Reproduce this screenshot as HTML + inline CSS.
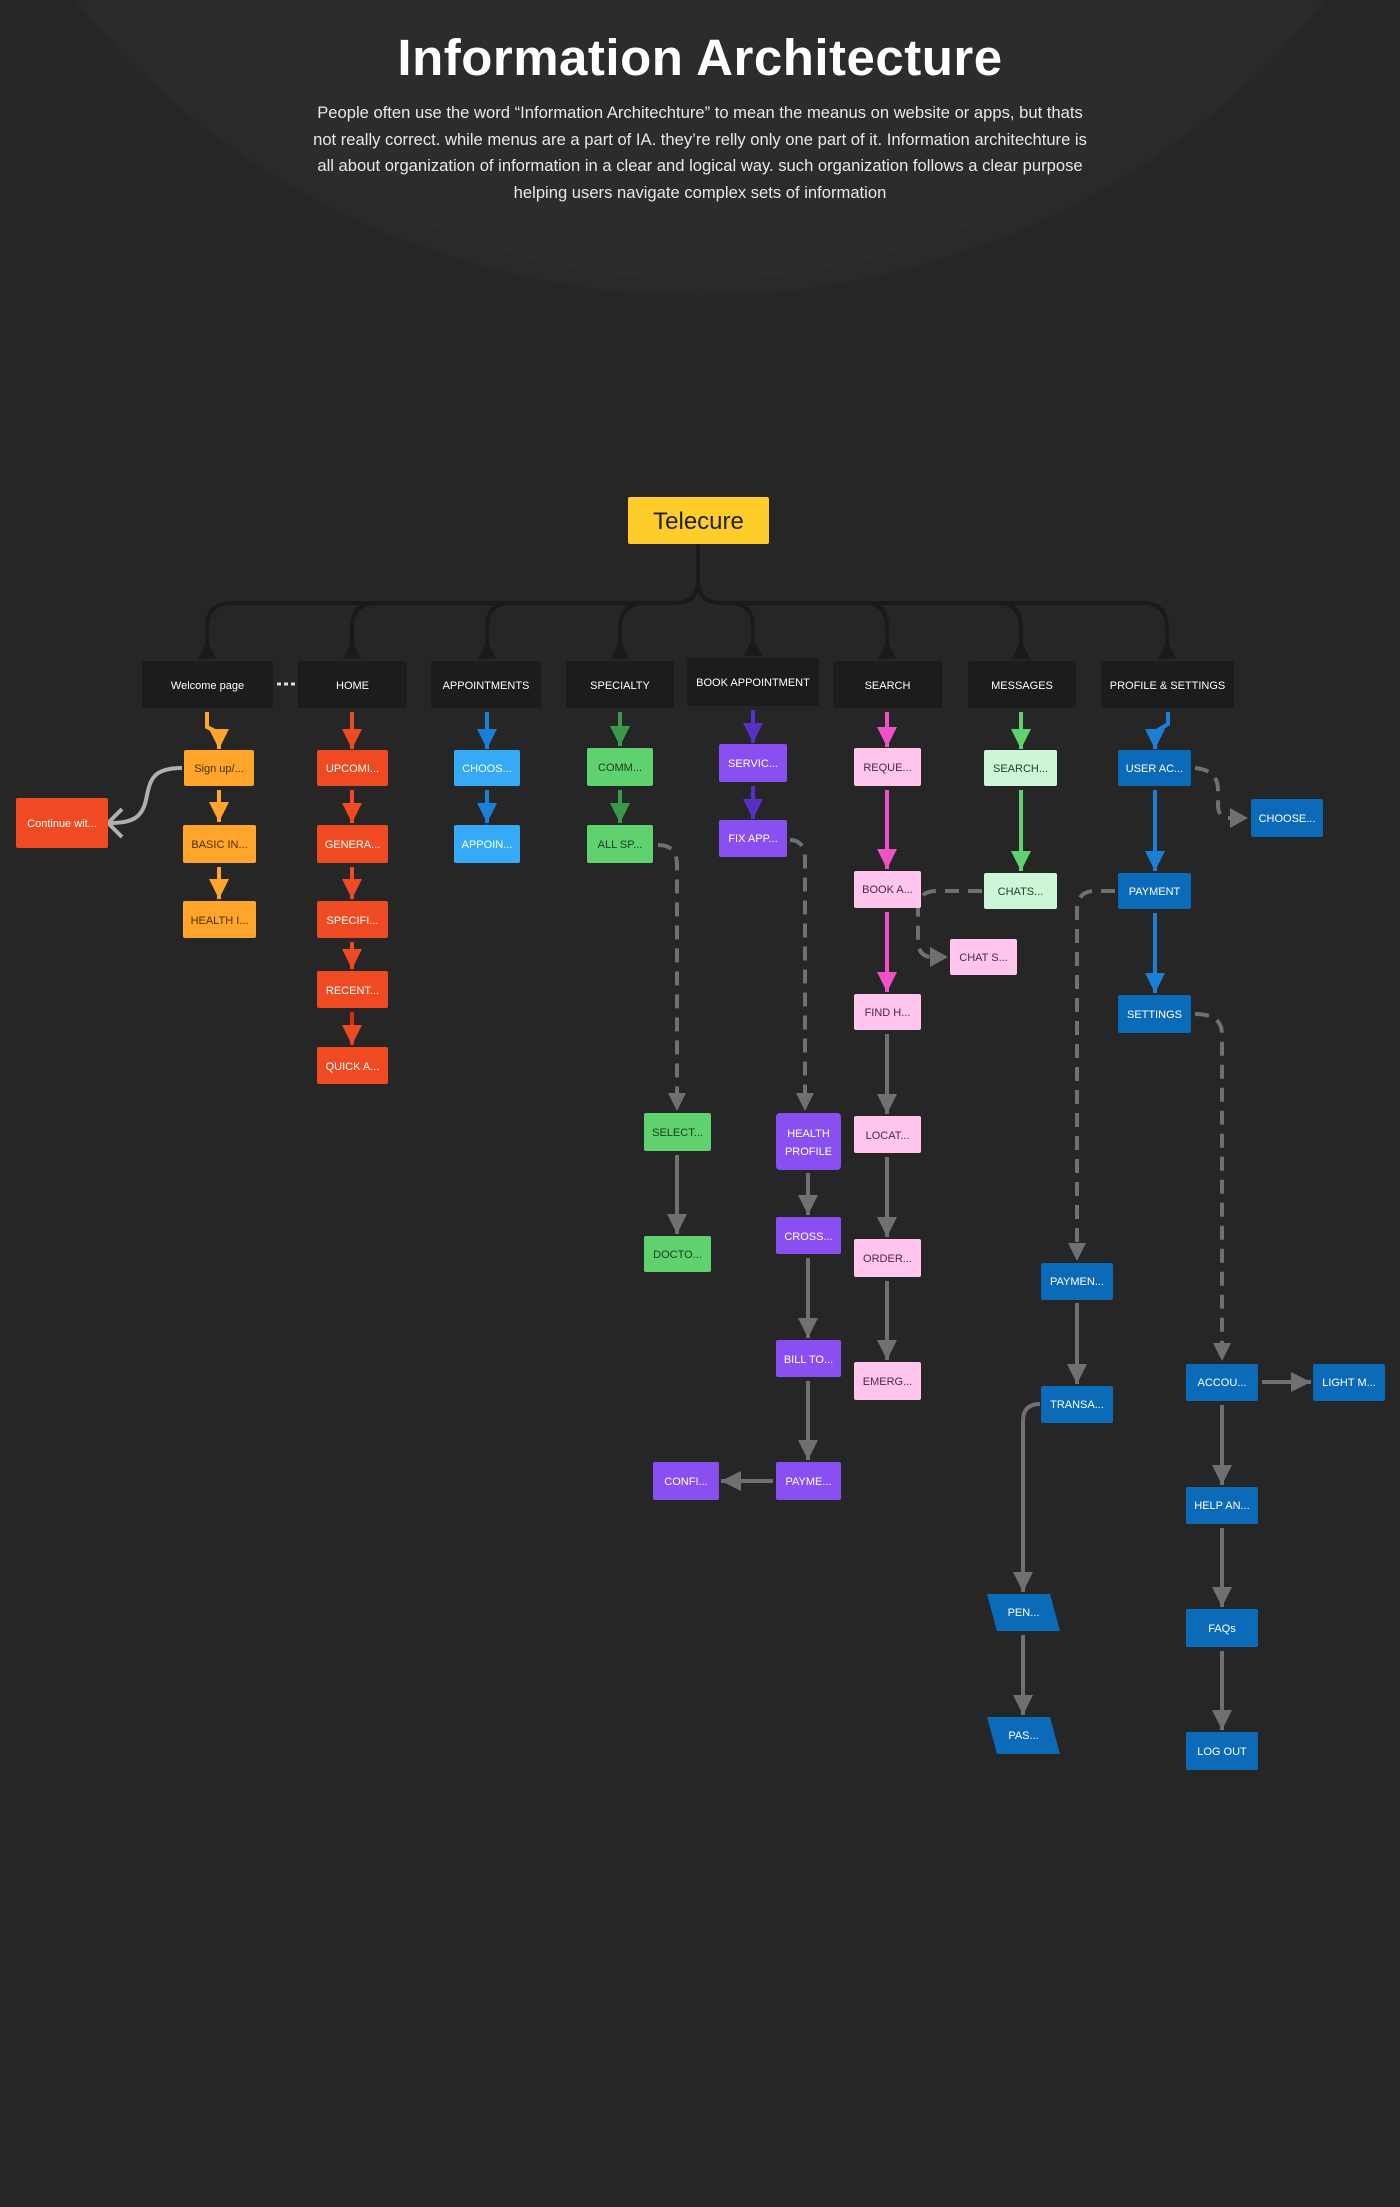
<!DOCTYPE html>
<html><head><meta charset="utf-8"><style>
html,body{margin:0;padding:0;background:#262626;}
body{width:1400px;height:2207px;position:relative;overflow:hidden;font-family:"Liberation Sans",sans-serif;}
.hdr{position:absolute;left:0;top:0;width:1400px;text-align:center;color:#fff;}
h1{margin:0;position:absolute;top:28px;width:1400px;font-size:51px;font-weight:bold;letter-spacing:0.5px;}
p{position:absolute;top:100px;left:200px;width:1000px;margin:0;font-size:16.6px;line-height:26.5px;color:#e8e8e8;white-space:nowrap;}
svg{position:absolute;left:0;top:0;}
</style></head><body>
<svg width="1400" height="2207">
<defs>
<marker id="mo" viewBox="0 0 10 10" refX="10" refY="5" markerWidth="20" markerHeight="20" markerUnits="userSpaceOnUse" orient="auto"><path d="M0,0L10,5L0,10z" fill="#ffa52b"/></marker>
<marker id="mr" viewBox="0 0 10 10" refX="10" refY="5" markerWidth="20" markerHeight="20" markerUnits="userSpaceOnUse" orient="auto"><path d="M0,0L10,5L0,10z" fill="#f04a23"/></marker>
<marker id="mb" viewBox="0 0 10 10" refX="10" refY="5" markerWidth="20" markerHeight="20" markerUnits="userSpaceOnUse" orient="auto"><path d="M0,0L10,5L0,10z" fill="#1a7fd6"/></marker>
<marker id="mg" viewBox="0 0 10 10" refX="10" refY="5" markerWidth="20" markerHeight="20" markerUnits="userSpaceOnUse" orient="auto"><path d="M0,0L10,5L0,10z" fill="#3a9a4a"/></marker>
<marker id="mp" viewBox="0 0 10 10" refX="10" refY="5" markerWidth="20" markerHeight="20" markerUnits="userSpaceOnUse" orient="auto"><path d="M0,0L10,5L0,10z" fill="#5a2fc8"/></marker>
<marker id="mk" viewBox="0 0 10 10" refX="10" refY="5" markerWidth="20" markerHeight="20" markerUnits="userSpaceOnUse" orient="auto"><path d="M0,0L10,5L0,10z" fill="#f050c8"/></marker>
<marker id="ml" viewBox="0 0 10 10" refX="10" refY="5" markerWidth="20" markerHeight="20" markerUnits="userSpaceOnUse" orient="auto"><path d="M0,0L10,5L0,10z" fill="#5fd16f"/></marker>
<marker id="mx" viewBox="0 0 10 10" refX="10" refY="5" markerWidth="20" markerHeight="20" markerUnits="userSpaceOnUse" orient="auto"><path d="M0,0L10,5L0,10z" fill="#707070"/></marker>
</defs>
<rect width="1400" height="2207" fill="#262626"/>
<ellipse cx="700" cy="-440" rx="780" ry="735" fill="#2a2a2a"/>
<ellipse cx="700" cy="-380" rx="680" ry="660" fill="#2c2c2c"/>

<g fill="none" stroke="#1a1a1a" stroke-width="4">
<path d="M698,544 V580 Q698,603 675,603 H232"/>
<path d="M698,580 Q698,603 721,603 H1142"/>
<path d="M232,603 Q207,603 207,628 V645"/>
<path d="M377,603 Q352,603 352,628 V645"/>
<path d="M511,603 Q487,603 487,628 V645"/>
<path d="M645,603 Q620,603 620,628 V645"/>
<path d="M730,603 Q753,603 753,628 V645"/>
<path d="M864,603 Q887,603 887,628 V645"/>
<path d="M998,603 Q1021,603 1021,628 V645"/>
<path d="M1142,603 Q1167,603 1167,628 V645"/>
</g>
<g fill="#1a1a1a">
<polygon points="207,640 198,659 216,659"/><polygon points="352,640 343,659 361,659"/>
<polygon points="487,640 478,659 496,659"/><polygon points="620,640 611,659 629,659"/>
<polygon points="753,638 744,656 762,656"/><polygon points="887,640 878,659 896,659"/>
<polygon points="1021,640 1012,659 1030,659"/><polygon points="1167,640 1158,659 1176,659"/>
</g>

<g fill="none" stroke-width="4">
<path d="M207,712 V727 L219,733 V749" stroke="#ffa52b" marker-end="url(#mo)"/>
<path d="M219,790 V822" stroke="#ffa52b" marker-end="url(#mo)"/>
<path d="M219,867 V899" stroke="#ffa52b" marker-end="url(#mo)"/>
<path d="M352,712 V749" stroke="#f04a23" marker-end="url(#mr)"/>
<path d="M352,790 V823" stroke="#f04a23" marker-end="url(#mr)"/>
<path d="M352,867 V899" stroke="#f04a23" marker-end="url(#mr)"/>
<path d="M352,942 V969" stroke="#f04a23" marker-end="url(#mr)"/>
<path d="M352,1012 V1045" stroke="#d8300f" marker-end="url(#mr)"/>
<path d="M487,712 V749" stroke="#1a7fd6" marker-end="url(#mb)"/>
<path d="M487,790 V823" stroke="#1a7fd6" marker-end="url(#mb)"/>
<path d="M620,712 V746" stroke="#3a9a4a" marker-end="url(#mg)"/>
<path d="M620,790 V823" stroke="#3a9a4a" marker-end="url(#mg)"/>
<path d="M753,710 V743" stroke="#5a2fc8" marker-end="url(#mp)"/>
<path d="M753,786 V819" stroke="#5a2fc8" marker-end="url(#mp)"/>
<path d="M887,712 V747" stroke="#f050c8" marker-end="url(#mk)"/>
<path d="M887,790 V869" stroke="#f050c8" marker-end="url(#mk)"/>
<path d="M887,912 V992" stroke="#f050c8" marker-end="url(#mk)"/>
<path d="M1021,712 V749" stroke="#5fd16f" marker-end="url(#ml)"/>
<path d="M1021,790 V871" stroke="#5fd16f" marker-end="url(#ml)"/>
<path d="M1168,712 V724 L1155,732 V749" stroke="#1a7fd6" marker-end="url(#mb)"/>
<path d="M1155,790 V871" stroke="#1a7fd6" marker-end="url(#mb)"/>
<path d="M1155,913 V993" stroke="#1a7fd6" marker-end="url(#mb)"/>
</g>
<path d="M182,768 C152,768 150,780 146,800 C142,818 132,823 110,823" fill="none" stroke="#b0b0b0" stroke-width="4"/>
<polyline points="122,809 108,823 122,837" fill="none" stroke="#b0b0b0" stroke-width="4"/>
<line x1="277" y1="684" x2="296" y2="684" stroke="#ddd" stroke-width="3" stroke-dasharray="4 3"/>

<g fill="none" stroke="#707070" stroke-width="4" marker-end="url(#mx)">
<path d="M677,1155 V1234"/>
<path d="M808,1173 V1215"/>
<path d="M808,1258 V1338"/>
<path d="M808,1381 V1460"/>
<path d="M773,1481 H721"/>
<path d="M887,1034 V1114"/>
<path d="M887,1157 V1237"/>
<path d="M887,1281 V1360"/>
<path d="M1077,1303 V1384"/>
<path d="M1040,1404 Q1023,1404 1023,1421 V1592"/>
<path d="M1023,1635 V1715"/>
<path d="M1262,1382 H1311"/>
<path d="M1222,1405 V1485"/>
<path d="M1222,1528 V1607"/>
<path d="M1222,1651 V1730"/>
</g>
<g fill="none" stroke="#707070" stroke-width="4" stroke-dasharray="14 9">
<path d="M658,845 Q677,845 677,865 V1095"/>
<path d="M790,840 Q805,840 805,860 V1095"/>
<path d="M982,891 H937 Q918,891 918,908 V940 Q918,957 932,957"/>
<path d="M1195,768 Q1218,770 1218,790 V805 Q1218,818 1230,818"/>
<path d="M1115,891 H1095 Q1077,891 1077,910 V1245"/>
<path d="M1195,1014 Q1222,1014 1222,1034 V1345"/>
</g>
<g fill="#707070">
<polygon points="668,1093 686,1093 677,1111"/>
<polygon points="796,1093 814,1093 805,1111"/>
<polygon points="930,947 930,967 948,957"/>
<polygon points="1230,808 1230,828 1248,818"/>
<polygon points="1068,1243 1086,1243 1077,1261"/>
<polygon points="1213,1343 1231,1343 1222,1361"/>
</g>

<rect x="628" y="497" width="141" height="47" rx="2" fill="#ffcd29"/>
<text x="698.5" y="529" font-size="24" fill="#222" text-anchor="middle">Telecure</text>

<g fill="#1c1c1c">
<rect x="142" y="661" width="131" height="47" rx="2"/>
<rect x="298" y="661" width="109" height="47" rx="2"/>
<rect x="431" y="661" width="110" height="47" rx="2"/>
<rect x="566" y="661" width="108" height="47" rx="2"/>
<rect x="687" y="658" width="132" height="48" rx="2"/>
<rect x="833" y="661" width="109" height="47" rx="2"/>
<rect x="968" y="661" width="108" height="47" rx="2"/>
<rect x="1101" y="661" width="133" height="47" rx="2"/>
</g>
<g fill="#fff" font-size="11" text-anchor="middle">
<text x="207.5" y="689">Welcome page</text>
<text x="352.5" y="689">HOME</text>
<text x="486" y="689">APPOINTMENTS</text>
<text x="620" y="689">SPECIALTY</text>
<text x="753" y="686">BOOK APPOINTMENT</text>
<text x="887.5" y="689">SEARCH</text>
<text x="1022" y="689">MESSAGES</text>
<text x="1167.5" y="689">PROFILE &amp; SETTINGS</text>
</g>

<g font-size="11" text-anchor="middle">
<g fill="#ffa52b"><rect x="184" y="750" width="70" height="36" rx="2"/><rect x="183" y="825" width="73" height="38" rx="2"/><rect x="183" y="901" width="73" height="37" rx="2"/></g>
<g fill="#4a3000"><text x="219" y="772">Sign up/...</text><text x="219.5" y="848">BASIC IN...</text><text x="219.5" y="924">HEALTH I...</text></g>
<rect x="16" y="798" width="92" height="50" rx="2" fill="#f04a23"/>
<text x="62" y="827" fill="#fff">Continue wit...</text>
<g fill="#f04a23"><rect x="317" y="750" width="71" height="36" rx="2"/><rect x="317" y="825" width="71" height="38" rx="2"/><rect x="317" y="901" width="71" height="37" rx="2"/><rect x="317" y="971" width="71" height="37" rx="2"/><rect x="317" y="1047" width="71" height="37" rx="2"/></g>
<g fill="#fff"><text x="352.5" y="772">UPCOMI...</text><text x="352.5" y="848">GENERA...</text><text x="352.5" y="924">SPECIFI...</text><text x="352.5" y="994">RECENT...</text><text x="352.5" y="1070">QUICK A...</text></g>
<g fill="#36aaf7"><rect x="454" y="750" width="66" height="36" rx="2"/><rect x="454" y="825" width="66" height="38" rx="2"/></g>
<g fill="#fff"><text x="487" y="772">CHOOS...</text><text x="487" y="848">APPOIN...</text></g>
<g fill="#5fd16f"><rect x="587" y="748" width="66" height="38" rx="2"/><rect x="587" y="825" width="66" height="38" rx="2"/><rect x="644" y="1113" width="67" height="38" rx="2"/><rect x="644" y="1236" width="67" height="36" rx="2"/></g>
<g fill="#1d3a1f"><text x="620" y="771">COMM...</text><text x="620" y="848">ALL SP...</text><text x="677.5" y="1136">SELECT...</text><text x="677.5" y="1258">DOCTO...</text></g>
<g fill="#8a4ff0"><rect x="719" y="744" width="68" height="38" rx="2"/><rect x="719" y="820" width="68" height="37" rx="2"/><rect x="776" y="1113" width="65" height="57" rx="4"/><rect x="776" y="1217" width="65" height="37" rx="2"/><rect x="776" y="1340" width="65" height="37" rx="2"/><rect x="776" y="1462" width="65" height="38" rx="2"/><rect x="653" y="1462" width="66" height="38" rx="2"/></g>
<g fill="#fff"><text x="753" y="767">SERVIC...</text><text x="753" y="842">FIX APP...</text><text x="808.5" y="1137">HEALTH</text><text x="808.5" y="1155">PROFILE</text><text x="808.5" y="1240">CROSS...</text><text x="808.5" y="1363">BILL TO...</text><text x="808.5" y="1485">PAYME...</text><text x="686" y="1485">CONFI...</text></g>
<g fill="#ffc5ec"><rect x="854" y="748" width="67" height="38" rx="2"/><rect x="854" y="871" width="67" height="37" rx="2"/><rect x="854" y="994" width="67" height="36" rx="2"/><rect x="950" y="939" width="67" height="36" rx="2"/><rect x="854" y="1116" width="67" height="37" rx="2"/><rect x="854" y="1239" width="67" height="38" rx="2"/><rect x="854" y="1362" width="67" height="38" rx="2"/></g>
<g fill="#4a2a40"><text x="887.5" y="771">REQUE...</text><text x="887.5" y="893">BOOK A...</text><text x="887.5" y="1016">FIND H...</text><text x="983.5" y="961">CHAT S...</text><text x="887.5" y="1139">LOCAT...</text><text x="887.5" y="1262">ORDER...</text><text x="887.5" y="1385">EMERG...</text></g>
<g fill="#cdf5d7"><rect x="984" y="750" width="73" height="36" rx="2"/><rect x="984" y="873" width="73" height="36" rx="2"/></g>
<g fill="#25402b"><text x="1020.5" y="772">SEARCH...</text><text x="1020.5" y="895">CHATS...</text></g>
<g fill="#0b6bb8"><rect x="1118" y="750" width="73" height="36" rx="2"/><rect x="1251" y="799" width="72" height="38" rx="2"/><rect x="1118" y="873" width="73" height="36" rx="2"/><rect x="1118" y="995" width="73" height="38" rx="2"/><rect x="1041" y="1263" width="72" height="37" rx="2"/><rect x="1041" y="1386" width="72" height="37" rx="2"/><rect x="1186" y="1364" width="72" height="37" rx="2"/><rect x="1313" y="1364" width="72" height="37" rx="2"/><rect x="1186" y="1487" width="72" height="37" rx="2"/><rect x="1186" y="1609" width="72" height="38" rx="2"/><rect x="1186" y="1732" width="72" height="38" rx="2"/>
<polygon points="987,1594 1050,1594 1060,1631 997,1631"/><polygon points="987,1717 1050,1717 1060,1754 997,1754"/></g>
<g fill="#fff"><text x="1154.5" y="772">USER AC...</text><text x="1287" y="822">CHOOSE...</text><text x="1154.5" y="895">PAYMENT</text><text x="1154.5" y="1018">SETTINGS</text><text x="1077" y="1285">PAYMEN...</text><text x="1077" y="1408">TRANSA...</text><text x="1222" y="1386">ACCOU...</text><text x="1349" y="1386">LIGHT M...</text><text x="1222" y="1509">HELP AN...</text><text x="1222" y="1632">FAQs</text><text x="1222" y="1755">LOG OUT</text><text x="1023.5" y="1616">PEN...</text><text x="1023.5" y="1739">PAS...</text></g>
</g>
</svg>
<div class="hdr">
<h1>Information Architecture</h1>
<p>People often use the word “Information Architechture” to mean the meanus on website or apps, but thats<br>not really correct. while menus are a part of IA. they’re relly only one part of it. Information architechture is<br>all about organization of information in a clear and logical way. such organization follows a clear purpose<br>helping users navigate complex sets of information</p>
</div>
</body></html>
